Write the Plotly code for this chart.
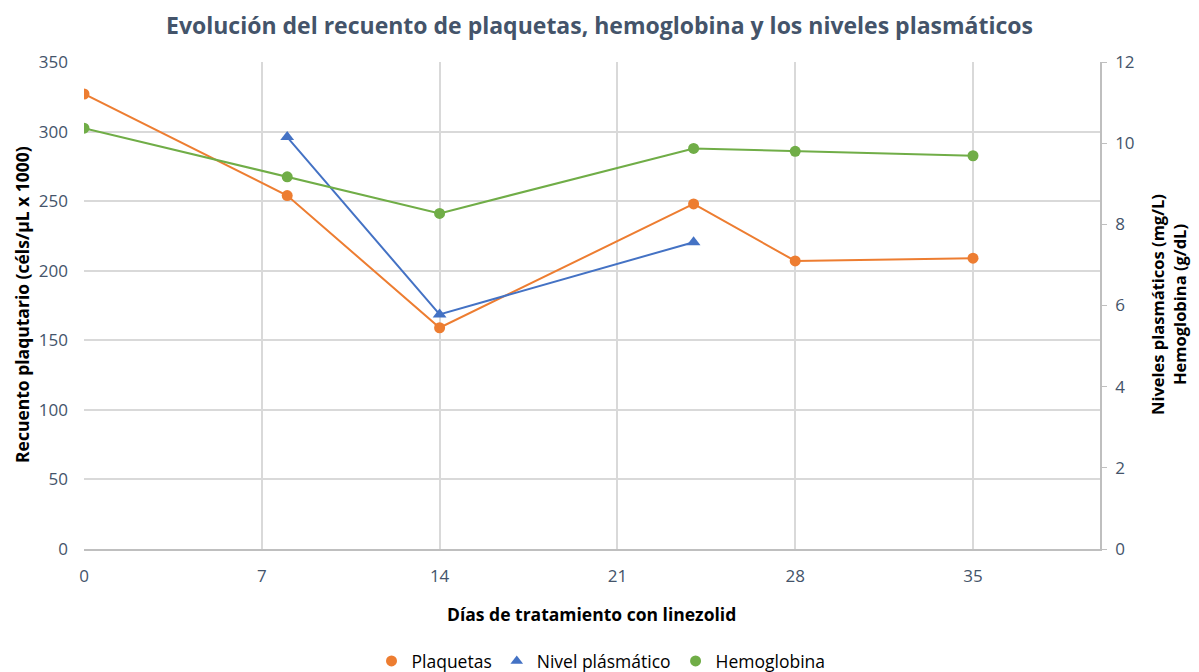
import plotly.graph_objects as go

# Data
dias_plaq = [0, 8, 14, 24, 28, 35]
plaquetas = [327, 254, 159, 248, 207, 209]

dias_nivel = [8, 14, 24]
nivel_plasmatico = [10.15, 5.78, 7.56]

dias_hemo = [0, 8, 14, 24, 28, 35]
hemoglobina = [10.37, 9.17, 8.27, 9.87, 9.80, 9.69]

x_ticks = [0, 7, 14, 21, 28, 35]
left_ticks = [0, 50, 100, 150, 200, 250, 300, 350]
right_ticks = [0, 2, 4, 6, 8, 10, 12]

ORANGE = "#ED7D31"
BLUE = "#4472C4"
GREEN = "#70AD47"
TICKCOL = "#44546A"
FONT = "'Open Sans', sans-serif"

# page offset (body margin) compensation
W, H = 1191, 664
L, R, T, B = 76, 99, 54, 123
PL, PT, PW, PH = 84, 62, 1016, 487  # plot area in page pixels


def px(xp):
    return (xp - PL) / PW


def py(yp):
    return (PT + PH - yp) / PH


fig = go.Figure()

fig.add_trace(go.Scatter(x=dias_plaq, y=plaquetas, mode="lines+markers", name="Plaquetas",
                         line=dict(color=ORANGE, width=2), marker=dict(color=ORANGE, size=11, symbol="circle"),
                         showlegend=False, yaxis="y"))
fig.add_trace(go.Scatter(x=dias_nivel, y=nivel_plasmatico, mode="lines+markers", name="Nivel plásmático",
                         line=dict(color=BLUE, width=2), marker=dict(color=BLUE, size=12, symbol="triangle-up"),
                         showlegend=False, yaxis="y2"))
fig.add_trace(go.Scatter(x=dias_hemo, y=hemoglobina, mode="lines+markers", name="Hemoglobina",
                         line=dict(color=GREEN, width=2), marker=dict(color=GREEN, size=11, symbol="circle"),
                         showlegend=False, yaxis="y2"))

# legend entries (marker only, like the original)
for name, col, sym in [("Plaquetas", ORANGE, "circle"), ("Nivel plásmático", BLUE, "triangle-up"),
                       ("Hemoglobina", GREEN, "circle")]:
    fig.add_trace(go.Scatter(x=[None], y=[None], mode="markers", name=name,
                             marker=dict(color=col, size=11, symbol=sym), showlegend=True))

fig.update_layout(
    width=W, height=H,
    paper_bgcolor="white", plot_bgcolor="white",
    margin=dict(l=L, r=R, t=T, b=B, autoexpand=False),
    font=dict(family=FONT, color=TICKCOL, size=17),
    xaxis=dict(range=[0, 40], tickvals=x_ticks, showgrid=True, gridcolor="#D9D9D9", gridwidth=1.5,
               showline=True, linecolor="#BFBFBF", linewidth=1.5, zeroline=False,
               ticks="", ticklabelstandoff=11, tickfont=dict(size=17, color=TICKCOL), automargin=False),
    yaxis=dict(range=[0, 350], tickvals=left_ticks, showgrid=True, gridcolor="#D9D9D9", gridwidth=1.5,
               zeroline=False, showline=False, ticks="", ticklabelstandoff=15,
               tickfont=dict(size=17, color=TICKCOL), automargin=False),
    yaxis2=dict(range=[0, 12], tickvals=right_ticks, overlaying="y", side="right", showgrid=False,
                zeroline=False, showline=True, linecolor="#BFBFBF", linewidth=1.5,
                ticks="outside", ticklen=5, tickcolor="#BFBFBF", ticklabelstandoff=5,
                tickfont=dict(size=17, color=TICKCOL), automargin=False),
    legend=dict(orientation="h", x=px(601), xanchor="center", y=py(661), yanchor="middle",
                font=dict(size=17.5, color="black"), itemwidth=30),
    annotations=[
        dict(text="<b>Evolución del recuento de plaquetas, hemoglobina y los niveles plasmáticos</b>",
             x=px(599), y=py(25), xref="paper", yref="paper", showarrow=False, xanchor="center",
             yanchor="middle", font=dict(size=23, color=TICKCOL)),
        dict(text="<b>Días de tratamiento con linezolid</b>", x=px(591), y=py(614), xref="paper", yref="paper",
             showarrow=False, xanchor="center", yanchor="middle", font=dict(size=17.5, color="black")),
        dict(text="<b>Recuento plaqutario (céls/µL x 1000)</b>", x=px(22), y=py(305), xref="paper", yref="paper",
             showarrow=False, xanchor="center", yanchor="middle", textangle=-90, font=dict(size=17.5, color="black")),
        dict(text="<b>Niveles plasmáticos (mg/L)</b>", x=px(1157), y=py(305), xref="paper",
             yref="paper", showarrow=False, xanchor="center", yanchor="middle", textangle=-90,
             font=dict(size=16.5, color="black")),
        dict(text="<b>Hemoglobina (g/dL)</b>", x=px(1179), y=py(305), xref="paper",
             yref="paper", showarrow=False, xanchor="center", yanchor="middle", textangle=-90,
             font=dict(size=16.5, color="black")),
    ],
)

fig.write_html("out.html")
